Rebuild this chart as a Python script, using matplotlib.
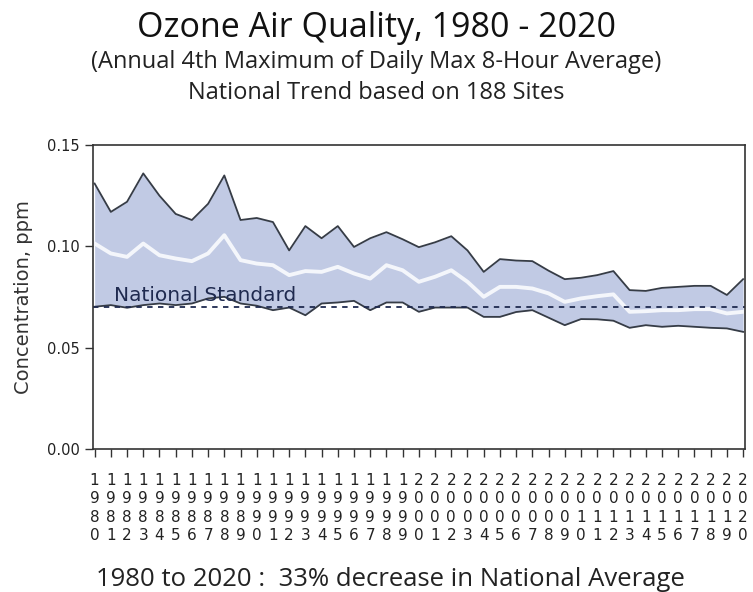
import matplotlib
matplotlib.use("Agg")
import matplotlib.pyplot as plt
import numpy as np

years = list(range(1980, 2021))
upper = [0.131, 0.117, 0.122, 0.136, 0.125, 0.116, 0.113, 0.121, 0.135, 0.113,
         0.114, 0.112, 0.098, 0.110, 0.104, 0.110, 0.0997, 0.104, 0.107, 0.1035,
         0.0996, 0.102, 0.105, 0.098, 0.0874, 0.0937, 0.093, 0.0927, 0.088, 0.0838,
         0.0845, 0.0858, 0.0878, 0.0784, 0.078, 0.0795, 0.080, 0.0805, 0.0805, 0.076,
         0.0838]
lower = [0.0702, 0.071, 0.0697, 0.071, 0.0718, 0.071, 0.0718, 0.0743, 0.0751, 0.0718,
         0.0707, 0.0685, 0.0698, 0.066, 0.0718, 0.0723, 0.0731, 0.0685, 0.0723, 0.0723,
         0.0677, 0.0698, 0.0698, 0.0698, 0.0652, 0.0652, 0.0676, 0.0685, 0.0648, 0.0611,
         0.0641, 0.064, 0.0633, 0.0598, 0.0611, 0.0603, 0.0608, 0.0603, 0.0598, 0.0595,
         0.0578]
mean = [0.1014, 0.0965, 0.0948, 0.1014, 0.0956, 0.094, 0.0927, 0.0965, 0.1055, 0.0932,
        0.0915, 0.0907, 0.0858, 0.0878, 0.0874, 0.0899, 0.0866, 0.0841, 0.0907, 0.0882,
        0.0825, 0.085, 0.0882, 0.0825, 0.0751, 0.080, 0.080, 0.0792, 0.0768, 0.0726,
        0.0743, 0.0754, 0.0763, 0.0677, 0.068, 0.0685, 0.0685, 0.069, 0.069, 0.0669,
        0.0677]
standard = 0.070
yticks = [0.00, 0.05, 0.10, 0.15]
ytick_labels = ["0.00", "0.05", "0.10", "0.15"]
xtick_labels = ["\n".join(str(y)) for y in years]

title = "Ozone Air Quality, 1980 - 2020"
subtitle1 = "(Annual 4th Maximum of Daily Max 8-Hour Average)"
subtitle2 = "National Trend based on 188 Sites"
footer = "1980 to 2020 :  33% decrease in National Average"

fig = plt.figure(figsize=(7.53, 5.92), dpi=100)
ax = fig.add_axes([0.1235, 0.2416, 0.8655, 0.5134])

navy = "#1f2a4f"
ax.fill_between(years, lower, upper, color="#c1cae4", lw=0)
ax.plot(years, upper, color="#363c46", lw=1.3)
ax.plot(years, lower, color="#363c46", lw=1.3)
ax.plot(years, mean, color="#f4f6fb", lw=2.8)
ax.axhline(standard, color=navy, lw=1.3, ls=(0, (3, 3)))
ax.text(1981.2, standard + 0.0012, "National Standard", color=navy,
        fontsize=14.5, family="DejaVu Sans", va="bottom", ha="left")

ax.set_xlim(1979.9, 2020.1)
ax.set_ylim(0, 0.15)
ax.set_yticks(yticks)
ax.set_yticklabels(ytick_labels, fontsize=10.5, color="#222222")
ax.set_xticks(years)
ax.set_xticklabels(xtick_labels, fontsize=11, color="#222222", linespacing=1.3)
ax.tick_params(axis="both", direction="out", length=6, width=1, color="#333333")
ax.tick_params(axis="x", pad=11)
for s in ax.spines.values():
    s.set_color("#333333")
    s.set_linewidth(1.2)
ax.set_ylabel("Concentration, ppm", fontsize=14, color="#333333", labelpad=10)

fig.text(0.5, 1 - 37 / 592, title, ha="center", va="baseline", fontsize=24.5, family="Open Sans", color="#111111")
fig.text(0.5, 1 - 68 / 592, subtitle1, ha="center", va="baseline", fontsize=17, family="Open Sans", color="#222222")
fig.text(0.5, 1 - 99 / 592, subtitle2, ha="center", va="baseline", fontsize=17, family="Open Sans", color="#222222")
fig.text(0.518, 1 - 586 / 592, footer, ha="center", va="baseline", fontsize=18.5, family="Open Sans", color="#222222")

fig.savefig("out.png", dpi=100)
